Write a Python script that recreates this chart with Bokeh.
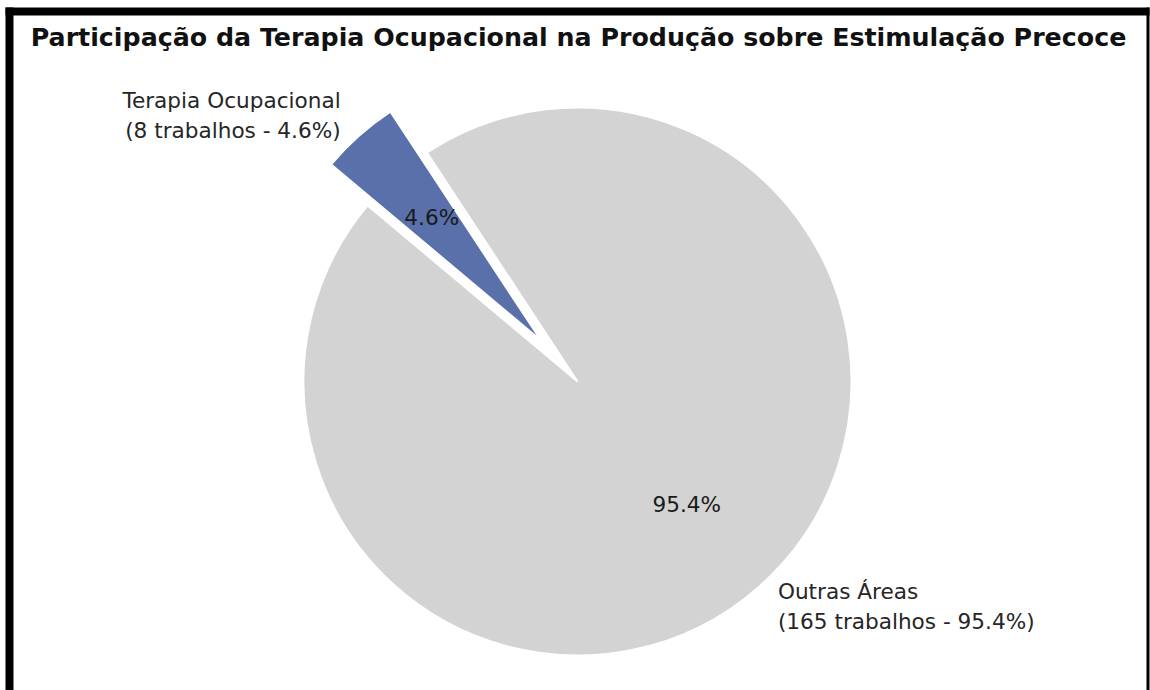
import math
from bokeh.plotting import figure
from bokeh.models import Range1d
from bokeh.core.properties import value
from bokeh.embed import file_html
from bokeh.resources import INLINE

# ---- data ----
categories = ["Terapia Ocupacional", "Outras Áreas"]
counts = [8, 165]
colors = ["#5a70aa", "#d3d3d3"]
title_text = "Participação da Terapia Ocupacional na Produção sobre Estimulação Precoce"

# ---- geometry (page pixels, y flipped) ----
W, H = 1150, 690
CX, CY = 577, -381
R = 274
START = 140.0
EXPLODE = [0.2, 0.0]
FONT = value("DejaVu Sans")
FS = "21.6px"

total = sum(counts)
pcts = [c / total * 100 for c in counts]

p = figure(width=W, height=H, output_backend="svg", toolbar_location=None,
           x_range=Range1d(0, W), y_range=Range1d(-H, 0),
           x_axis_type=None, y_axis_type=None, min_border=0)
p.border_fill_color = "white"
p.background_fill_color = "white"
p.outline_line_color = None
p.grid.visible = False

# black frame of the picture
p.quad(left=[5, 5, 1146], right=[13, 1149, 1149], top=[-7, -7, -7], bottom=[-H - 5, -15, -H - 5],
       fill_color="black", line_color=None)

ang = START
for i, (cat, c) in enumerate(zip(categories, counts)):
    span = c / total * 360.0
    a_end = ang
    a_start = ang - span  # clockwise
    mid = math.radians((a_start + a_end) / 2)
    ox = CX + EXPLODE[i] * R * math.cos(mid)
    oy = CY + EXPLODE[i] * R * math.sin(mid)
    p.wedge(x=[ox], y=[oy], radius=R, start_angle=[math.radians(a_start)],
            end_angle=[math.radians(a_end)], fill_color=colors[i],
            line_color="white", line_width=2)
    # percentage label
    p.text(x=[ox + 0.6 * R * math.cos(mid)], y=[oy + 0.6 * R * math.sin(mid)],
           text=[f"{pcts[i]:.1f}%"], text_align="center", text_baseline="middle",
           text_font=FONT, text_font_size=FS, text_color="#1a1a1a")
    # outer label
    lx = ox + 1.1 * R * math.cos(mid)
    ly = oy + 1.1 * R * math.sin(mid)
    align = "right" if math.cos(mid) < 0 else "left"
    p.text(x=[lx], y=[ly], text=[f"{cat}\n({c} trabalhos - {pcts[i]:.1f}%)"],
           text_align=align, text_baseline="middle", text_line_height=1.2,
           text_font=FONT, text_font_size=FS, text_color="#262626")
    ang = a_start

p.text(x=[578], y=[-37], text=[title_text], text_align="center", text_baseline="middle",
       text_font=FONT, text_font_style="bold", text_font_size="25.3px", text_color="#111111")

open("out.html", "w").write(file_html(p, INLINE))
